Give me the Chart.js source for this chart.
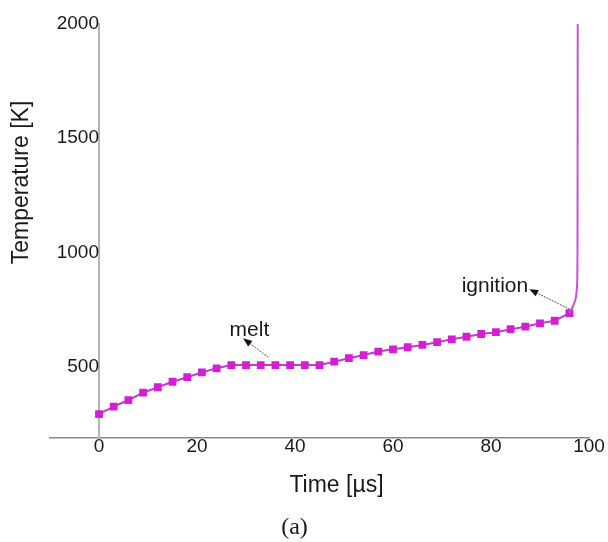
<!DOCTYPE html>
<html><head><meta charset="utf-8">
<script src="https://cdn.jsdelivr.net/npm/chart.js@4.4.1/dist/chart.umd.min.js"></script>
<style>html,body{margin:0;padding:0;background:#fff}canvas{display:block}</style>
</head><body>
<canvas id="c" width="608" height="542"></canvas>
<script>
// ---- data ----
const timeUs = [0, 3, 6, 9, 12, 15, 18, 21, 24, 27, 30, 33, 36, 39, 42, 45, 48, 51, 54, 57, 60, 63, 66, 69, 72, 75, 78, 81, 84, 87, 90, 93, 96];
const temperatureK = [292, 325, 354, 386, 410, 434, 454, 475, 493, 507, 507, 507, 507, 507, 507, 507, 522, 537, 551, 566, 576, 585, 595, 607, 620, 631, 643, 651, 664, 675, 690, 701, 734];
const ignitionTimeUs = [96, 96.8, 97.3, 97.55, 97.65, 97.7];
const ignitionTempK = [734, 768, 800, 850, 1000, 2000];
const xTickValues = [0, 20, 40, 60, 80, 100];
const yTickValues = [500, 1000, 1500, 2000];
const noteLabels = ['melt', 'ignition'];
const noteTextAt = [[30.7, 634], [80.8, 828]];
const noteArrowFrom = [[34.55, 541], [96.1, 751]];
const noteArrowTo = [[29.4, 624], [87.8, 839]];

const FONT = "'Liberation Sans', Arial, Helvetica, sans-serif";

const annotate = {
  id: 'annotate',
  afterDatasetsDraw(chart) {
    const {ctx, scales: {x, y}} = chart;
    ctx.save();
    noteLabels.forEach((t, i) => {
      const tx = x.getPixelForValue(noteTextAt[i][0]);
      const ty = y.getPixelForValue(noteTextAt[i][1]);
      ctx.font = '21px ' + FONT;
      ctx.fillStyle = '#1a1a1a';
      ctx.textAlign = 'center';
      ctx.textBaseline = 'alphabetic';
      ctx.fillText(t, tx, ty);
      const x0 = x.getPixelForValue(noteArrowFrom[i][0]);
      const y0 = y.getPixelForValue(noteArrowFrom[i][1]);
      const x1 = x.getPixelForValue(noteArrowTo[i][0]);
      const y1 = y.getPixelForValue(noteArrowTo[i][1]);
      const ang = Math.atan2(y1 - y0, x1 - x0);
      const hl = 9, hw = 3.5;
      const bx = x1 - hl * Math.cos(ang), by = y1 - hl * Math.sin(ang);
      ctx.strokeStyle = '#555';
      ctx.lineWidth = 1;
      ctx.setLineDash([2, 1]);
      ctx.beginPath(); ctx.moveTo(x0, y0); ctx.lineTo(bx, by); ctx.stroke();
      ctx.setLineDash([]);
      ctx.fillStyle = '#111';
      ctx.beginPath();
      ctx.moveTo(x1, y1);
      ctx.lineTo(bx + hw * Math.sin(ang), by - hw * Math.cos(ang));
      ctx.lineTo(bx - hw * Math.sin(ang), by + hw * Math.cos(ang));
      ctx.closePath(); ctx.fill();
    });
    ctx.restore();
  }
};

const TITLE_FONT = {family: FONT, size: 23, lineHeight: 1.2};
const hidden = {
  type: 'linear', display: true,
  grid: {display: false, drawTicks: false},
  border: {display: false},
  ticks: {display: false}
};
const xTitlePad = {top: 15.7, bottom: 0};
const yTitlePad = {top: 8.2, bottom: 14.2};

new Chart(document.getElementById('c'), {
  type: 'line',
  data: {
    datasets: [
      {
        data: ignitionTimeUs.map((t, i) => ({x: t, y: ignitionTempK[i]})),
        borderColor: '#c552d8', borderWidth: 2, pointRadius: 0,
        cubicInterpolationMode: 'monotone', xAxisID: 'x', yAxisID: 'y'
      },
      {
        data: timeUs.map((t, i) => ({x: t, y: temperatureK[i]})),
        borderColor: '#c23ccc', borderWidth: 2,
        pointStyle: 'rect', pointRadius: 5.5,
        pointBackgroundColor: '#d41ed4', pointBorderColor: '#d41ed4', pointBorderWidth: 0,
        xAxisID: 'x', yAxisID: 'y'
      }
    ]
  },
  options: {
    responsive: false, animation: false, devicePixelRatio: 1,
    layout: {padding: {left: 0, right: 19, top: 24, bottom: 0}},
    plugins: {
      legend: {display: false}, tooltip: {enabled: false},
      title: {display: true, position: 'bottom', text: '(a)', color: '#1a1a1a',
        font: {family: "'Liberation Serif', 'Times New Roman', serif", size: 24, weight: 'normal', lineHeight: 1.2},
        padding: {top: 13.4, bottom: 0}}
    },
    scales: {
      x: {
        type: 'linear', position: 'bottom', min: -10, max: 100,
        afterBuildTicks: s => { s.ticks = xTickValues.map(v => ({value: v})); },
        grid: {display: false, drawTicks: false},
        border: {display: true, color: '#8a8a8a', width: 1.5},
        ticks: {padding: 0, color: '#1a1a1a', font: {family: FONT, size: 19, lineHeight: 1},
          callback: v => String(v)},
        title: {display: false}
      },
      xBlank: Object.assign({}, hidden, {position: 'bottom', stack: 'xs', stackWeight: 0.063,
        title: {display: true, text: '', font: TITLE_FONT, padding: xTitlePad}}),
      xTitle: Object.assign({}, hidden, {position: 'bottom', stack: 'xs', stackWeight: 0.937,
        title: {display: true, text: 'Time [µs]', color: '#1a1a1a', font: TITLE_FONT, padding: xTitlePad}}),
      y: {
        type: 'linear', position: {x: 0}, min: 190, max: 2000,
        afterBuildTicks: s => { s.ticks = yTickValues.map(v => ({value: v})); },
        grid: {display: false, drawTicks: false},
        border: {display: true, color: '#b4b4b4', width: 2},
        ticks: {padding: 0, color: '#1a1a1a', font: {family: FONT, size: 19, lineHeight: 1},
          callback: v => String(v)},
        title: {display: false}
      },
      yBlank: Object.assign({}, hidden, {position: 'left', stack: 'ys', stackWeight: 0.2334,
        title: {display: true, text: '', font: TITLE_FONT, padding: yTitlePad}}),
      yTitle: Object.assign({}, hidden, {position: 'left', stack: 'ys', stackWeight: 0.7666,
        title: {display: true, text: 'Temperature [K]', color: '#1a1a1a', font: TITLE_FONT, padding: yTitlePad}})
    }
  },
  plugins: [annotate]
});
</script>
</body></html>
